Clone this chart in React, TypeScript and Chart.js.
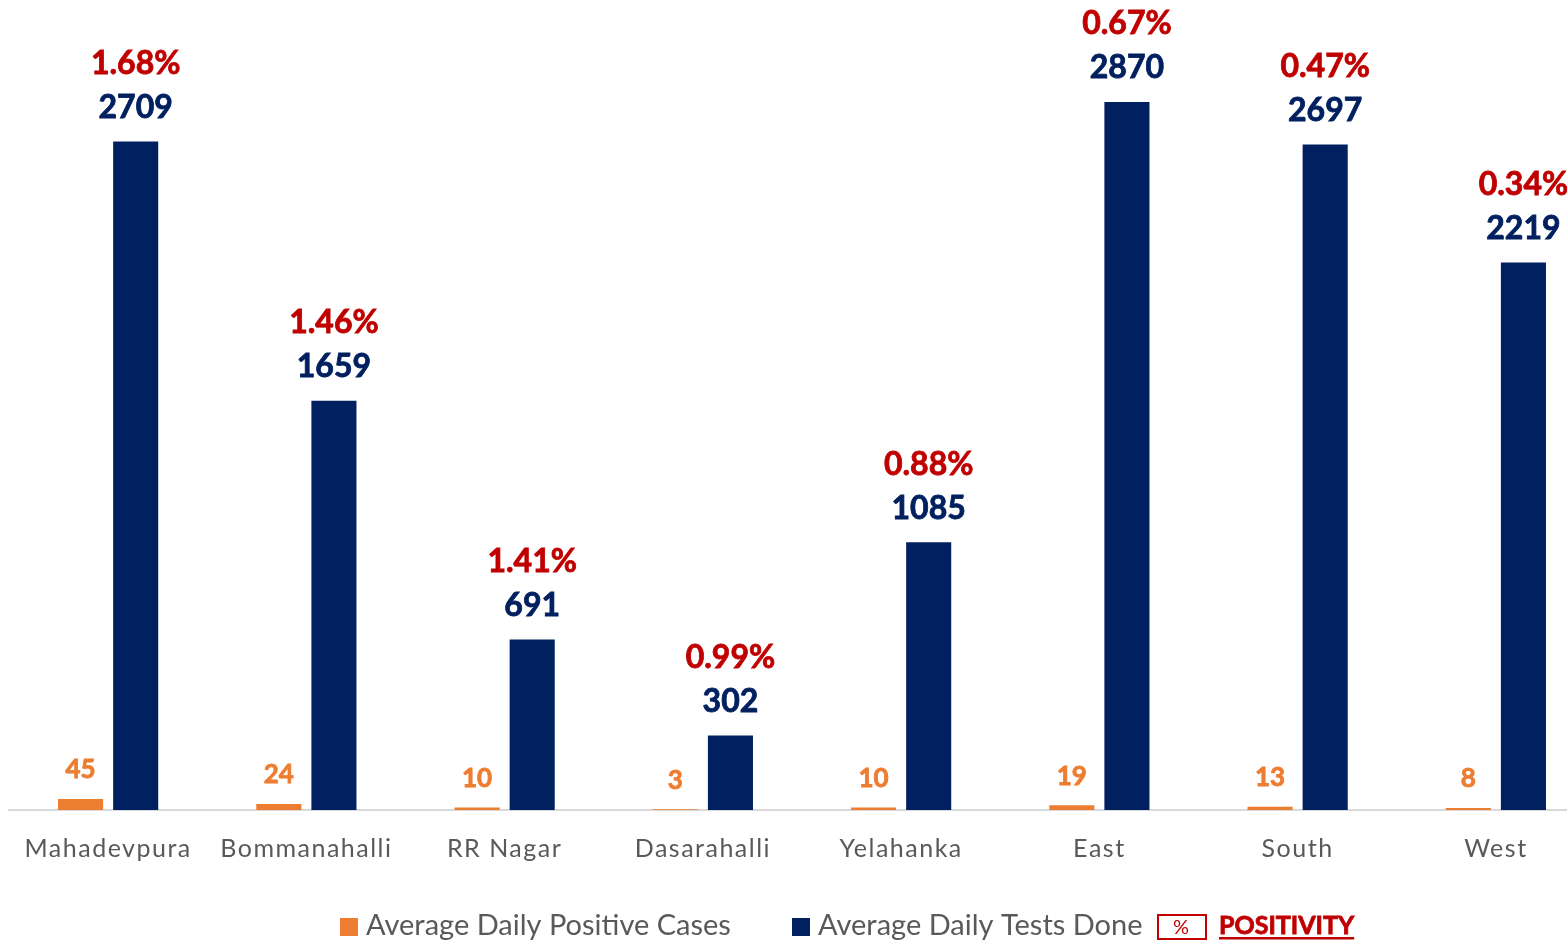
import React, { useEffect, useRef } from "react";
import { Chart, registerables } from "chart.js";

Chart.register(...registerables);

const categories = ["Mahadevpura", "Bommanahalli", "RR Nagar", "Dasarahalli", "Yelahanka", "East", "South", "West"];
const positiveCases = [45, 24, 10, 3, 10, 19, 13, 8];
const testsDone = [2709, 1659, 691, 302, 1085, 2870, 2697, 2219];
const positivity = ["1.68%", "1.46%", "1.41%", "0.99%", "0.88%", "0.67%", "0.47%", "0.34%"];
const seriesNames = ["Average Daily Positive Cases", "Average Daily Tests Done"];

const ORANGE = "#ED7D31";
const NAVY = "#002060";
const RED = "#C00000";
const GRAY = "#595959";
const FONT = "Lato, 'Open Sans', sans-serif";

const spacingPlugin = {
  id: "spacing",
  beforeDraw(chart: any) {
    (chart.ctx as any).letterSpacing = "1.5px";
  },
  beforeDatasetsDraw(chart: any) {
    (chart.ctx as any).letterSpacing = "0px";
  },
};

function boldText(ctx: CanvasRenderingContext2D, text: string, x: number, y: number, color: string) {
  ctx.fillStyle = color;
  ctx.strokeStyle = color;
  ctx.lineWidth = 0.8;
  ctx.fillText(text, x, y);
  ctx.strokeText(text, x, y);
}

const labelsPlugin = {
  id: "valueLabels",
  afterDatasetsDraw(chart: any) {
    const ctx = chart.ctx;
    ctx.save();
    (ctx as any).letterSpacing = "0px";
    ctx.textAlign = "center";
    ctx.textBaseline = "middle";
    const m0 = chart.getDatasetMeta(0);
    m0.data.forEach((bar: any, i: number) => {
      ctx.font = `bold 26px ${FONT}`;
      boldText(ctx, String(positiveCases[i]), bar.x, bar.y - 29, ORANGE);
    });
    const m1 = chart.getDatasetMeta(1);
    m1.data.forEach((bar: any, i: number) => {
      ctx.font = `bold 32px ${FONT}`;
      boldText(ctx, String(testsDone[i]), bar.x, bar.y - 34, NAVY);
      boldText(ctx, positivity[i], bar.x, bar.y - 78, RED);
    });
    ctx.restore();
  },
};

const legendPlugin = {
  id: "customLegend",
  afterDraw(chart: any) {
    const ctx = chart.ctx;
    ctx.save();
    (ctx as any).letterSpacing = "0px";
    ctx.textBaseline = "middle";
    ctx.textAlign = "left";
    const y = 926;
    ctx.font = `29px ${FONT}`;
    ctx.fillStyle = ORANGE;
    ctx.fillRect(340, y - 8, 18, 18);
    ctx.fillStyle = GRAY;
    ctx.fillText(seriesNames[0], 366, y);
    ctx.fillStyle = NAVY;
    ctx.fillRect(792, y - 8, 18, 18);
    ctx.fillStyle = GRAY;
    ctx.fillText(seriesNames[1], 818, y);
    ctx.strokeStyle = RED;
    ctx.lineWidth = 2;
    ctx.strokeRect(1158, 915, 48, 24);
    ctx.fillStyle = RED;
    ctx.textAlign = "center";
    ctx.font = `20px ${FONT}`;
    ctx.fillText("%", 1181, 928);
    ctx.textAlign = "left";
    ctx.font = `bold 25px ${FONT}`;
    boldText(ctx, "POSITIVITY", 1219, 926, RED);
    const w = ctx.measureText("POSITIVITY").width;
    ctx.fillRect(1219, 937, w, 2.5);
    ctx.restore();
  },
};

export default function App() {
  const ref = useRef<HTMLCanvasElement>(null);
  useEffect(() => {
    if (!ref.current) return;
    const chart = new Chart(ref.current, {
      type: "bar",
      data: {
        labels: categories,
        datasets: [
          { label: seriesNames[0], data: positiveCases, backgroundColor: ORANGE, categoryPercentage: 0.556, barPercentage: 0.818 },
          { label: seriesNames[1], data: testsDone, backgroundColor: NAVY, categoryPercentage: 0.556, barPercentage: 0.818 },
        ],
      },
      options: {
        responsive: false,
        animation: false,
        devicePixelRatio: 1,
        layout: { padding: { left: 9, right: 5, top: 0, bottom: 55 } },
        plugins: { legend: { display: false }, tooltip: { enabled: false } },
        scales: {
          x: {
            grid: { display: false, drawTicks: false },
            border: { display: true, color: "#D9D9D9", width: 2 },
            ticks: { color: GRAY, font: { family: FONT, size: 25 }, padding: 24, maxRotation: 0, autoSkip: false },
          },
          y: { display: false, min: 0, max: 3283 },
        },
      },
      plugins: [spacingPlugin, labelsPlugin, legendPlugin],
    });
    return () => chart.destroy();
  }, []);
  return (
    <div style={{ position: "fixed", left: 0, top: 0, width: 1567, height: 943, overflow: "hidden", background: "#fff" }}>
      <canvas ref={ref} width={1600} height={943} style={{ display: "block" }} />
    </div>
  );
}
